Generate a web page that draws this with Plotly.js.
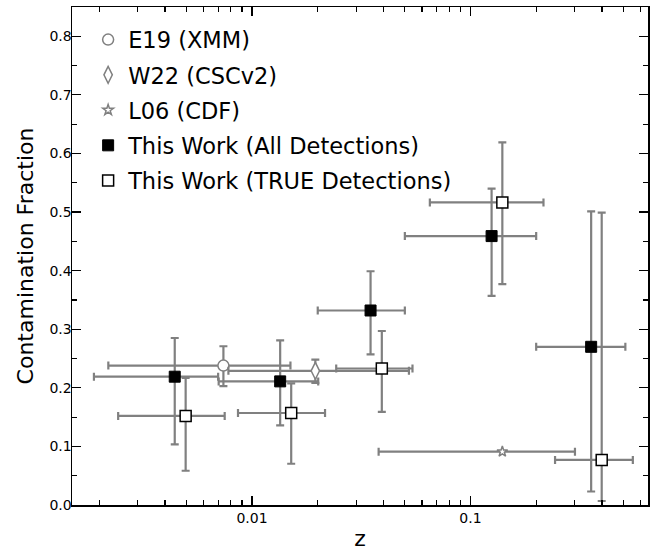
<!DOCTYPE html>
<html>
<head>
<meta charset="utf-8">
<script src="https://cdn.plot.ly/plotly-3.0.1.min.js"></script>
<style>html,body{margin:0;padding:0;background:#fff;}#chart{width:657px;height:551px;}</style>
</head>
<body>
<div id="chart"></div>
<script>
// ---- data ----
const e19_z = [0.0074];
const e19_f = [0.238];
const e19_zlo = [0.0022];
const e19_zhi = [0.0150];
const e19_flo = [0.203];
const e19_fhi = [0.271];

const w22_z = [0.0195];
const w22_f = [0.229];
const w22_zlo = [0.0078];
const w22_zhi = [0.0523];
const w22_flo = [0.2085];
const w22_fhi = [0.248];

const l06_z = [0.140];
const l06_f = [0.091];
const l06_zlo = [0.038];
const l06_zhi = [0.301];

const all_z = [0.00443, 0.01346, 0.0349, 0.125, 0.357];
const all_f = [0.219, 0.211, 0.332, 0.459, 0.270];
const all_zlo = [0.00189, 0.00704, 0.0200, 0.0501, 0.200];
const all_zhi = [0.0070, 0.0201, 0.0501, 0.200, 0.512];
const all_flo = [0.1035, 0.136, 0.257, 0.357, 0.023];
const all_fhi = [0.285, 0.281, 0.399, 0.540, 0.501];

const true_z = [0.00497, 0.01512, 0.0393, 0.140, 0.399];
const true_f = [0.152, 0.157, 0.233, 0.5165, 0.077];
const true_zlo = [0.00244, 0.00863, 0.0243, 0.0652, 0.244];
const true_zhi = [0.0075, 0.0216, 0.0543, 0.216, 0.554];
const true_flo = [0.0585, 0.0704, 0.159, 0.377, 0.0068];
const true_fhi = [0.217, 0.2075, 0.297, 0.619, 0.499];

const names = ['E19 (XMM)', 'W22 (CSCv2)', 'L06 (CDF)', 'This Work (All Detections)', 'This Work (TRUE Detections)'];
const xTickVals = [0.01, 0.1];
const xTickText = ['0.01', '0.1'];
const xMinorVals = [0.002,0.003,0.004,0.005,0.006,0.007,0.008,0.009,0.02,0.03,0.04,0.05,0.06,0.07,0.08,0.09,0.2,0.3,0.4,0.5,0.6];

// ---- helpers ----
const GRAY = '#808080';
const plus = (c, hi) => hi.map((h, i) => h - c[i]);
const minus = (c, lo) => lo.map((l, i) => c[i] - l);
function ex(c, lo, hi) {
  return {type: 'data', symmetric: false, array: plus(c, hi), arrayminus: minus(c, lo),
          color: GRAY, thickness: 2.2, width: 4};
}

const traces = [
  {x: e19_z, y: e19_f, name: names[0], legendgroup: 'a', mode: 'markers', type: 'scatter',
   marker: {symbol: 'circle', size: 11, color: '#ffffff', line: {color: GRAY, width: 1.5}},
   error_x: ex(e19_z, e19_zlo, e19_zhi), error_y: ex(e19_f, e19_flo, e19_fhi)},
  {x: w22_z, y: w22_f, name: names[1], legendgroup: 'b', mode: 'markers', type: 'scatter',
   marker: {symbol: 'diamond-tall', size: 12, color: '#ffffff', line: {color: GRAY, width: 1.5}},
   error_x: ex(w22_z, w22_zlo, w22_zhi), error_y: ex(w22_f, w22_flo, w22_fhi)},
  {x: l06_z, y: l06_f, name: names[2], legendgroup: 'c', mode: 'markers', type: 'scatter',
   marker: {symbol: 'star', size: 8, color: '#ffffff', line: {color: GRAY, width: 1.5}},
   error_x: ex(l06_z, l06_zlo, l06_zhi)},
  {x: all_z, y: all_f, name: names[3], legendgroup: 'd', mode: 'markers', type: 'scatter',
   marker: {symbol: 'square', size: 11, color: '#000000', line: {color: '#000000', width: 1}},
   error_x: ex(all_z, all_zlo, all_zhi), error_y: ex(all_f, all_flo, all_fhi)},
  {x: true_z, y: true_f, name: names[4], legendgroup: 'e', mode: 'markers', type: 'scatter',
   marker: {symbol: 'square', size: 11, color: '#ffffff', line: {color: '#000000', width: 1.5}},
   error_x: ex(true_z, true_zlo, true_zhi), error_y: ex(true_f, true_flo, true_fhi)}
];

const FONT = 'DejaVu Sans, sans-serif';
const layout = {
  width: 657, height: 551,
  margin: {l: 72, r: 9, t: 7, b: 46, pad: 0},
  paper_bgcolor: '#ffffff', plot_bgcolor: '#ffffff',
  font: {family: FONT, color: '#000000', size: 14},
  showlegend: true,
  legend: {x: 0.028, y: 0.977, xanchor: 'left', yanchor: 'top', traceorder: 'grouped',
           tracegroupgap: 3, font: {family: FONT, size: 22.5, color: '#000000'},
           bgcolor: 'rgba(0,0,0,0)', borderwidth: 0},
  xaxis: {
    type: 'log', range: [Math.log10(0.0015), Math.log10(0.65)],
    tickmode: 'array', tickvals: xTickVals, ticktext: xTickText,
    ticks: 'inside', ticklen: 9, tickwidth: 1.2, tickcolor: '#000000',
    showline: true, linecolor: '#000000', linewidth: 1.5, mirror: 'ticks',
    showgrid: false, zeroline: false,
    tickfont: {family: FONT, size: 14, color: '#000000'},
    minor: {tickmode: 'array', tickvals: xMinorVals, ticks: 'inside', ticklen: 5, tickwidth: 1.2, tickcolor: '#000000', showgrid: false},
    title: {text: 'z', font: {family: FONT, size: 22, color: '#000000'}, standoff: 12}
  },
  yaxis: {
    range: [0, 0.85], dtick: 0.1, tick0: 0, tickformat: '.1f',
    ticks: 'inside', ticklen: 9, tickwidth: 1.2, tickcolor: '#000000',
    showline: true, linecolor: '#000000', linewidth: 1.5, mirror: 'ticks',
    showgrid: false, zeroline: false, ticklabelstandoff: -4,
    tickfont: {family: FONT, size: 14, color: '#000000'},
    minor: {dtick: 0.05, ticks: 'inside', ticklen: 5, tickwidth: 1.2, tickcolor: '#000000', showgrid: false},
    title: {text: 'Contamination Fraction', font: {family: FONT, size: 22, color: '#000000'}, standoff: 9}
  }
};

Plotly.newPlot('chart', traces, layout, {displayModeBar: false, staticPlot: true});
</script>
</body>
</html>
